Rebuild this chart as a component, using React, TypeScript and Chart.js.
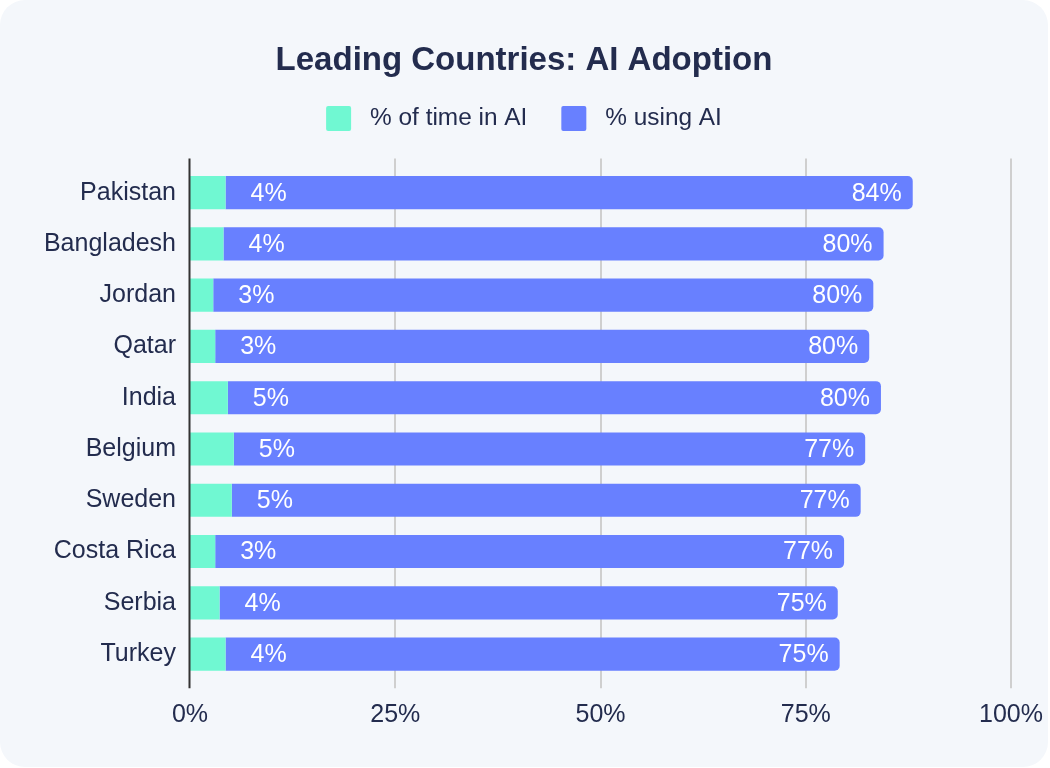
import React, { useEffect, useRef } from 'react';
import { Chart, registerables } from 'chart.js';

Chart.register(...registerables);

// ---- data ----
const TITLE = 'Leading Countries: AI Adoption';
const COUNTRIES = ['Pakistan', 'Bangladesh', 'Jordan', 'Qatar', 'India', 'Belgium', 'Sweden', 'Costa Rica', 'Serbia', 'Turkey'];
const SERIES_NAMES = ['% of time in AI', '% using AI'];
const TIME_IN_AI = [4.33, 4.08, 2.83, 3.07, 4.61, 5.34, 5.09, 3.07, 3.6, 4.33];
const USING_AI = [83.7, 80.4, 80.4, 79.66, 79.55, 76.9, 76.6, 76.6, 75.3, 74.8];
const X_TICKS = [0, 25, 50, 75, 100];

// ---- style ----
const FONT = "'Liberation Sans', Arial, Helvetica, sans-serif";
const NAVY = '#232c4e';
const GREEN = '#70F8D2';
const BLUE = '#6880FF';
const GRID = '#cfcfcf';
const AXIS = '#333333';
const CARD_BG = '#f4f7fb';

const overlayPlugin = {
  id: 'overlay',
  beforeDatasetsDraw(chart: any) {
    const { ctx, chartArea: a, scales } = chart;
    ctx.save();
    ctx.strokeStyle = GRID;
    ctx.lineWidth = 2;
    X_TICKS.forEach((v) => {
      if (v === 0) return;
      const px = Math.round(scales.x.getPixelForValue(v));
      ctx.beginPath();
      ctx.moveTo(px, a.top - 8.5);
      ctx.lineTo(px, a.bottom + 8.5);
      ctx.stroke();
    });
    ctx.restore();
  },
  afterDatasetsDraw(chart: any) {
    const { ctx, chartArea: a, scales } = chart;
    const x0 = scales.x.getPixelForValue(0);
    ctx.save();
    ctx.strokeStyle = AXIS;
    ctx.lineWidth = 2;
    ctx.beginPath();
    ctx.moveTo(x0 - 0.5, a.top - 8.5);
    ctx.lineTo(x0 - 0.5, a.bottom + 8.5);
    ctx.stroke();

    ctx.font = `25px ${FONT}`;
    ctx.fillStyle = '#ffffff';
    ctx.textBaseline = 'middle';
    const m0 = chart.getDatasetMeta(0);
    const m1 = chart.getDatasetMeta(1);
    m0.data.forEach((el: any, i: number) => {
      const p = el.getProps(['x', 'y'], true);
      ctx.textAlign = 'left';
      ctx.fillText(Math.round(TIME_IN_AI[i]) + '%', p.x + 25, p.y + 1);
    });
    m1.data.forEach((el: any, i: number) => {
      const p = el.getProps(['x', 'y'], true);
      ctx.textAlign = 'right';
      ctx.fillText(Math.round(USING_AI[i]) + '%', p.x - 11, p.y + 1);
    });
    ctx.restore();
  },
};

export default function App() {
  const canvasRef = useRef<HTMLCanvasElement | null>(null);

  useEffect(() => {
    document.body.style.margin = '0';
    document.body.style.background = '#ffffff';
    const canvas = canvasRef.current;
    if (!canvas) return;

    const chart = new Chart(canvas, {
      type: 'bar',
      data: {
        labels: COUNTRIES,
        datasets: [
          {
            label: SERIES_NAMES[0],
            data: TIME_IN_AI,
            backgroundColor: GREEN,
            borderWidth: 0,
            borderRadius: 0,
            barPercentage: 1,
            categoryPercentage: 0.647,
          },
          {
            label: SERIES_NAMES[1],
            data: USING_AI,
            backgroundColor: BLUE,
            borderWidth: 0,
            borderRadius: 5,
            borderSkipped: 'start',
            barPercentage: 1,
            categoryPercentage: 0.647,
          },
        ],
      },
      options: {
        indexAxis: 'y',
        responsive: false,
        animation: false,
        devicePixelRatio: 1,
        layout: { padding: { left: 37, right: 37, top: 0, bottom: 17.3 } },
        plugins: {
          title: {
            display: true,
            text: TITLE,
            color: NAVY,
            font: { family: FONT, size: 33, weight: 'bold', lineHeight: 0.7 },
            padding: { top: 49, bottom: 0 },
          },
          legend: {
            display: true,
            position: 'top',
            labels: {
              boxWidth: 25,
              boxHeight: 25,
              padding: 34,
              color: NAVY,
              font: { family: FONT, size: 24.4 },
              useBorderRadius: true,
              borderRadius: 2,
              generateLabels: (c: any) =>
                Chart.defaults.plugins.legend.labels
                  .generateLabels(c)
                  .map((l: any) => ({ ...l, text: ' ' + l.text, lineWidth: 0 })),
            },
          },
          subtitle: {
            display: true,
            text: '',
            weight: 500,
            font: { family: FONT, size: 10, lineHeight: 1 },
            padding: { top: 15.9, bottom: 0 },
          },
          tooltip: { enabled: false },
        },
        scales: {
          x: {
            type: 'linear',
            stacked: true,
            min: 0,
            max: 100,
            afterBuildTicks: (s: any) => {
              s.ticks = X_TICKS.map((v) => ({ value: v }));
            },
            afterFit: (s: any) => {
              s.paddingLeft = 0;
              s.paddingRight = 0;
            },
            ticks: {
              color: NAVY,
              font: { family: FONT, size: 25 },
              padding: 20,
              callback: (v: any) => v + '%',
            },
            grid: { display: false, drawTicks: false },
            border: { display: false },
          },
          y: {
            type: 'category',
            stacked: true,
            afterFit: (s: any) => {
              s.width = 153;
            },
            ticks: {
              color: NAVY,
              font: { family: FONT, size: 25 },
              padding: 14,
            },
            grid: { display: false, drawTicks: false },
            border: { display: false },
          },
        },
      } as any,
      plugins: [overlayPlugin],
    });

    return () => chart.destroy();
  }, []);

  return (
    <div
      style={{
        width: 1048,
        height: 767,
        background: CARD_BG,
        borderRadius: 25,
        overflow: 'hidden',
        position: 'relative',
      }}
    >
      <canvas ref={canvasRef} width={1048} height={767} style={{ display: 'block' }} />
    </div>
  );
}
